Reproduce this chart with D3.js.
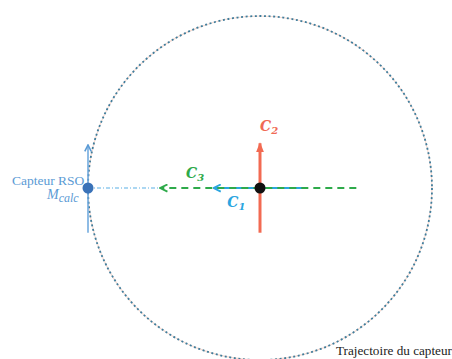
<!DOCTYPE html>
<html><head><meta charset="utf-8">
<script src="https://cdn.jsdelivr.net/npm/d3@7"></script>
<style>body{margin:0;background:#fff}svg{display:block}</style>
</head><body>
<svg id="c" width="452" height="359"></svg>
<script>
// data (unit: trajectory radius = 1, target at origin)
const trajectoryRadius = [1];
const target = [[0, 0]];
const sensor = [[-1, 0]];
const vecC1 = [[0.25, 0], [-0.27, 0]];
const vecC2 = [[0, -0.26], [0, 0.26]];
const vecC3 = [[0.56, 0], [-0.58, 0]];
const lineOfSight = [[-1, 0], [-0.58, 0]];
const sensorVelocity = [[-1, -0.26], [-1, 0.25]];
const vecLabels = [
  {name: "C", sub: "2", x: 0.0, y: 0.33, color: "#f06a55"},
  {name: "C", sub: "3", x: -0.43, y: 0.06, color: "#2eaa4a"},
  {name: "C", sub: "1", x: -0.19, y: -0.11, color: "#2ba5e0"}
];

const svg = d3.select("#c");
const x = d3.scaleLinear().domain([-1, 1]).range([88, 432]);
const y = d3.scaleLinear().domain([-1, 1]).range([360, 16]);
const line = d3.line().x(d => x(d[0])).y(d => y(d[1]));

const defs = svg.append("defs");
function marker(id, color, filled, size) {
  const m = defs.append("marker").attr("id", id).attr("viewBox", "0 0 10 10")
    .attr("refX", 9).attr("refY", 5).attr("markerUnits", "userSpaceOnUse")
    .attr("markerWidth", size).attr("markerHeight", size).attr("orient", "auto");
  if (filled) m.append("path").attr("d", "M0,1 L10,5 L0,9 Z").attr("fill", color);
  else m.append("path").attr("d", "M1,1 L9,5 L1,9").attr("fill", "none").attr("stroke", color).attr("stroke-width", 2);
}
marker("mRed", "#f26a52", true, 10);
marker("mBlue", "#2ba5e0", false, 9);
marker("mGreen", "#2eaa4a", false, 9);
marker("mSens", "#5b9bd5", false, 8);

// trajectory circle
const r = x(trajectoryRadius[0]) - x(0);
svg.append("circle").attr("cx", x(0)).attr("cy", y(0)).attr("r", r)
  .attr("fill", "none").attr("stroke", "#f7dcd3").attr("stroke-width", 1.2);
svg.append("circle").attr("cx", x(0)).attr("cy", y(0)).attr("r", r)
  .attr("fill", "none").attr("stroke", "#3f7d9c").attr("stroke-width", 1.8)
  .attr("stroke-dasharray", "2,2.6");

// line of sight (dash-dot)
svg.append("path").attr("d", line(lineOfSight)).attr("fill", "none")
  .attr("stroke", "#5bb0e6").attr("stroke-width", 1.2).attr("stroke-dasharray", "4,2,1,2");

// sensor velocity
svg.append("path").attr("d", line(sensorVelocity)).attr("fill", "none")
  .attr("stroke", "#6aa6dd").attr("stroke-width", 1.5).attr("marker-end", "url(#mSens)");

// C2 red
svg.append("path").attr("d", line(vecC2)).attr("fill", "none")
  .attr("stroke", "#f26a52").attr("stroke-width", 3).attr("marker-end", "url(#mRed)");
// C1 blue
svg.append("path").attr("d", line(vecC1)).attr("fill", "none")
  .attr("stroke", "#2ba5e0").attr("stroke-width", 2).attr("marker-end", "url(#mBlue)");
// C3 green dashed
svg.append("path").attr("d", line(vecC3)).attr("fill", "none")
  .attr("stroke", "#2eaa4a").attr("stroke-width", 1.8).attr("stroke-dasharray", "7,5")
  .attr("marker-end", "url(#mGreen)");

// target
svg.selectAll(".tgt").data(target).join("circle").attr("class", "tgt")
  .attr("cx", d => x(d[0])).attr("cy", d => y(d[1])).attr("r", 5.5).attr("fill", "#111");
// sensor
svg.selectAll(".sen").data(sensor).join("circle").attr("class", "sen")
  .attr("cx", d => x(d[0])).attr("cy", d => y(d[1])).attr("r", 5.5).attr("fill", "#3a72b8");

// vector labels
vecLabels.forEach(l => {
  const t = svg.append("text").attr("x", x(l.x)).attr("y", y(l.y))
    .attr("fill", l.color).attr("font-family", "DejaVu Serif").attr("font-style", "italic")
    .attr("font-weight", "bold").attr("font-size", 14);
  t.append("tspan").text(l.name);
  t.append("tspan").attr("font-size", 10).attr("dy", 3).text(l.sub);
});

// sensor labels
svg.append("text").attr("x", 12).attr("y", 185).attr("fill", "#5b9bd5")
  .attr("font-family", "Liberation Serif").attr("font-size", 13.5).text("Capteur RSO");
const m = svg.append("text").attr("x", 47).attr("y", 199).attr("fill", "#5b9bd5")
  .attr("font-family", "Liberation Serif").attr("font-style", "italic").attr("font-size", 14);
m.append("tspan").text("M");
m.append("tspan").attr("dy", 3).attr("font-size", 12).text("calc");

svg.append("text").attr("x", 336).attr("y", 355).attr("fill", "#222")
  .attr("font-family", "Liberation Serif").attr("font-size", 13.2).text("Trajectoire du capteur");
</script>
</body></html>
